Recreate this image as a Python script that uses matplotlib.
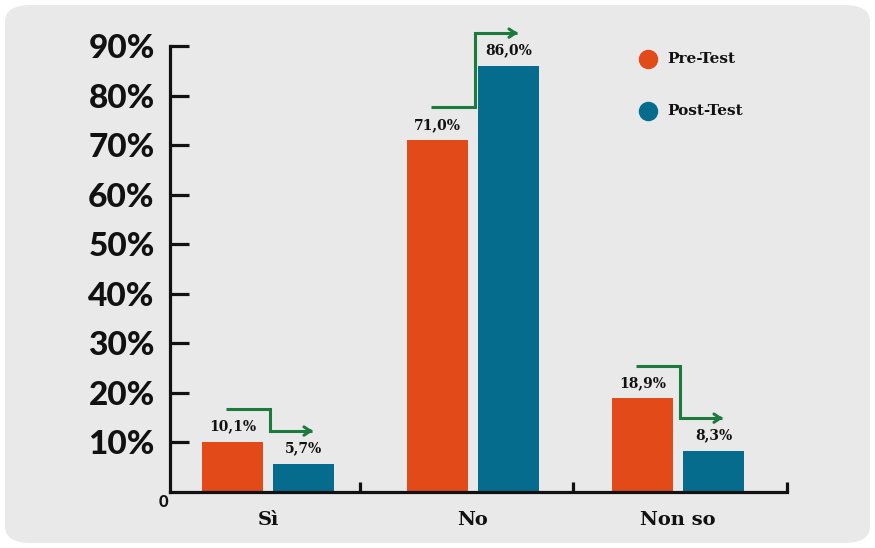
import matplotlib
matplotlib.use("Agg")
import matplotlib.pyplot as plt
from matplotlib.patches import FancyBboxPatch
import numpy as np

categories = ["Sì", "No", "Non so"]
pre_test = [10.1, 71.0, 18.9]
post_test = [5.7, 86.0, 8.3]
series_names = ["Pre-Test", "Post-Test"]
y_ticks = [10, 20, 30, 40, 50, 60, 70, 80, 90]
y_tick_labels = ["10%", "20%", "30%", "40%", "50%", "60%", "70%", "80%", "90%"]

ORANGE = "#e24a1a"
BLUE = "#066c8e"
GREEN = "#1b7a3c"
INK = "#111111"
PANEL = "#e9e9e9"

SERIF = ["DejaVu Serif"]
HEAVY = ["Lato", "DejaVu Sans"]

fig = plt.figure(figsize=(8.75, 5.48), dpi=100)
fig.patch.set_facecolor("white")

# rounded panel behind the chart
panel = FancyBboxPatch((5 / 875, 5 / 548), 865 / 875, 538 / 548,
                       boxstyle="round,pad=0,rounding_size=0.03",
                       transform=fig.transFigure, facecolor=PANEL,
                       edgecolor="none", zorder=-10)
fig.patches.append(panel)

ax = fig.add_axes([170 / 875, 1 - 492 / 548, (787 - 170) / 875, (492 - 46) / 548])
ax.set_facecolor("none")
ax.set_zorder(1)

x = np.arange(len(categories))
bw = 0.298
off = 0.173
ax.bar(x - off, pre_test, bw, color=ORANGE, zorder=2)
ax.bar(x + off, post_test, bw, color=BLUE, zorder=2)

def pct(v):
    return f"{v:.1f}".replace(".", ",") + "%"

for xi, v in zip(x - off, pre_test):
    ax.annotate(pct(v), (xi, v), xytext=(0, 6), textcoords="offset points",
                ha="center", va="bottom", fontsize=10, fontweight="bold",
                family=SERIF, color=INK)
for xi, v in zip(x + off, post_test):
    ax.annotate(pct(v), (xi, v), xytext=(0, 6), textcoords="offset points",
                ha="center", va="bottom", fontsize=10, fontweight="bold",
                family=SERIF, color=INK)

# step arrows from pre-test to post-test level
lift = 6.6
for xi, a, b in zip(x, pre_test, post_test):
    y0, y1 = a + lift, b + lift
    xs, xm, xe = xi - off - 0.03, xi + 0.01, xi + off + 0.06
    ax.plot([xs, xm, xm, xe - 0.02], [y0, y0, y1, y1], color=GREEN, lw=2.2,
            solid_joinstyle="miter", solid_capstyle="butt", zorder=3, clip_on=False)
    ax.annotate("", xy=(xe, y1), xytext=(xe - 0.05, y1),
                arrowprops=dict(arrowstyle="->,head_length=0.45,head_width=0.3",
                                color=GREEN, lw=2.2), annotation_clip=False)

ax.set_xlim(-0.478, 2.532)
ax.set_ylim(0, 90)

for s in ["top", "right"]:
    ax.spines[s].set_visible(False)
for s in ["left", "bottom"]:
    ax.spines[s].set_linewidth(2.3)
    ax.spines[s].set_color(INK)
    ax.spines[s].set_capstyle("projecting")

ax.set_yticks(y_ticks)
ax.set_yticklabels(y_tick_labels, family=HEAVY, fontweight="black", fontsize=24, color=INK)
ax.tick_params(axis="y", direction="in", length=14, width=2.3, pad=11, color=INK)

ax.set_xticks(x)
ax.set_xticklabels(categories, family=SERIF, fontweight="bold", fontsize=14, color=INK)
ax.tick_params(axis="x", which="major", length=0, pad=14)
ax.set_xticks([0.45, 1.49, 2.532], minor=True)
ax.tick_params(axis="x", which="minor", direction="in", length=7, width=2.3, color=INK)

ax.annotate("0", (0, 0), xycoords="axes fraction", xytext=(-1.5, -1.5),
            textcoords="offset points", ha="right", va="top",
            family=HEAVY, fontweight="black", fontsize=12, color=INK)

# legend drawn as dots with labels
for i, (name, col) in enumerate(zip(series_names, [ORANGE, BLUE])):
    yf = 1 - (59 + 52 * i) / 548
    fig.lines.append(plt.Line2D([648 / 875], [yf], marker="o", markersize=13,
                                color=col, transform=fig.transFigure, linestyle="none"))
    fig.text(667 / 875, yf, name, ha="left", va="center", family=SERIF,
             fontweight="bold", fontsize=11, color=INK)

fig.savefig("out.png", dpi=100, facecolor=fig.get_facecolor())
